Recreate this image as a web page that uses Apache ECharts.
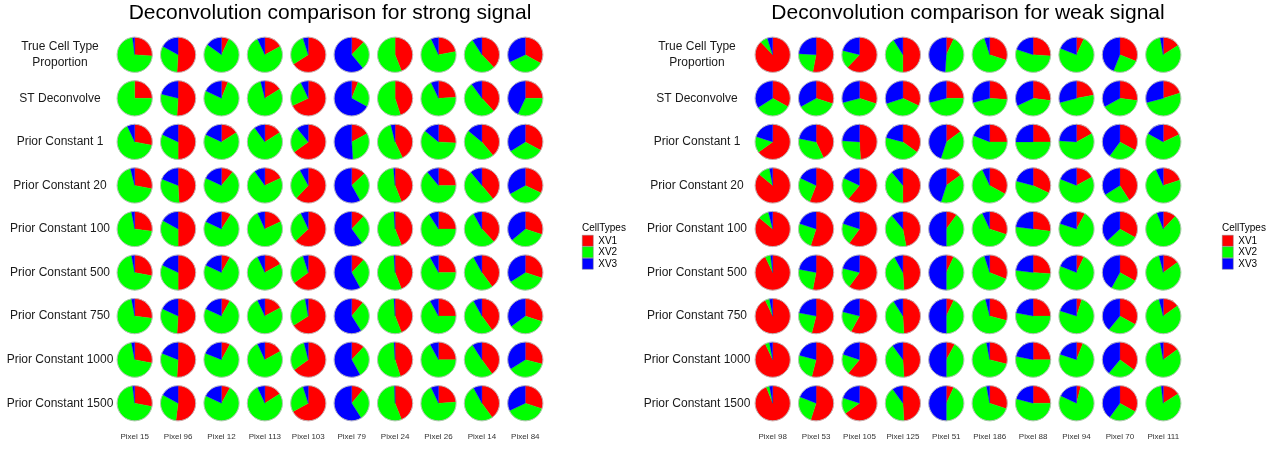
<!DOCTYPE html>
<html>
<head>
    <meta charset="utf-8">
    <title>Deconvolution comparison</title>
    <script src="https://cdn.jsdelivr.net/npm/echarts@6/dist/echarts.min.js"></script>
</head>
<style>
    body { margin: 0; background: #fff; overflow: hidden; }
</style>
<body>
<div id="main" style="width: 1279px; height: 450px;"></div>
<script>
const methods = ['True Cell Type\nProportion', 'ST Deconvolve', 'Prior Constant 1', 'Prior Constant 20',
    'Prior Constant 100', 'Prior Constant 500', 'Prior Constant 750', 'Prior Constant 1000', 'Prior Constant 1500'];
const cellTypes = ['XV1', 'XV2', 'XV3'];
const cellColors = ['#FF0000', '#00FF00', '#0000FF'];

// strong signal panel
const strongPixels = ['Pixel 15', 'Pixel 96', 'Pixel 12', 'Pixel 113', 'Pixel 103', 'Pixel 79', 'Pixel 24', 'Pixel 26', 'Pixel 14', 'Pixel 84'];
const strongXV1 = [
    [.26, .51, .07, .17, .66, .12, .44, .22, .38, .33],
    [.25, .51, .06, .16, .68, .06, .45, .24, .38, .25],
    [.28, .50, .16, .16, .65, .17, .43, .26, .39, .33],
    [.28, .49, .11, .18, .62, .13, .44, .25, .39, .32],
    [.27, .50, .09, .18, .63, .12, .44, .25, .38, .30],
    [.28, .50, .08, .17, .65, .12, .44, .25, .40, .30],
    [.27, .51, .08, .17, .66, .11, .44, .25, .40, .30],
    [.28, .51, .08, .17, .65, .12, .45, .25, .40, .29],
    [.28, .52, .08, .16, .67, .11, .44, .24, .40, .30]
];
const strongXV2 = [
    [.72, .32, .78, .76, .29, .27, .56, .71, .53, .35],
    [.75, .28, .76, .80, .25, .27, .55, .69, .52, .32],
    [.65, .32, .66, .74, .24, .32, .53, .60, .47, .33],
    [.68, .32, .71, .72, .30, .29, .545, .64, .50, .35],
    [.70, .33, .73, .75, .30, .28, .55, .66, .54, .34],
    [.69, .32, .74, .76, .30, .30, .55, .67, .52, .36],
    [.70, .31, .74, .76, .31, .30, .55, .67, .52, .35],
    [.69, .30, .73, .76, .31, .30, .54, .67, .51, .37],
    [.70, .31, .74, .77, .28, .30, .555, .69, .52, .38]
];
const strongXV3 = [
    [.02, .17, .15, .07, .05, .61, 0, .07, .09, .32],
    [0, .21, .18, .04, .07, .67, 0, .07, .10, .43],
    [.07, .18, .18, .10, .11, .51, .04, .14, .14, .34],
    [.04, .19, .18, .10, .08, .58, .015, .11, .11, .33],
    [.03, .17, .18, .07, .07, .60, .01, .09, .08, .36],
    [.03, .18, .18, .07, .05, .58, .01, .08, .08, .34],
    [.03, .18, .18, .07, .03, .59, .01, .08, .08, .35],
    [.03, .19, .19, .07, .04, .58, .01, .08, .09, .34],
    [.02, .17, .18, .07, .05, .59, .005, .07, .08, .32]
];

// weak signal panel
const weakPixels = ['Pixel 98', 'Pixel 53', 'Pixel 105', 'Pixel 125', 'Pixel 51', 'Pixel 186', 'Pixel 88', 'Pixel 94', 'Pixel 70', 'Pixel 111'];
const weakXV1 = [
    [.88, .53, .62, .50, .07, .30, .26, .07, .31, .16],
    [.33, .30, .30, .32, .25, .26, .27, .22, .27, .20],
    [.65, .43, .49, .35, .15, .25, .25, .17, .33, .18],
    [.86, .56, .61, .50, .15, .33, .32, .17, .41, .20],
    [.86, .55, .60, .47, .10, .30, .27, .08, .33, .12],
    [.93, .53, .60, .49, .07, .31, .26, .07, .33, .15],
    [.93, .54, .58, .49, .07, .29, .25, .05, .33, .15],
    [.93, .54, .61, .49, .08, .29, .25, .06, .35, .15],
    [.94, .55, .65, .49, .07, .30, .25, .04, .33, .16]
];
const weakXV2 = [
    [.07, .23, .17, .41, .44, .65, .54, .74, .25, .81],
    [.33, .37, .41, .38, .46, .45, .41, .49, .40, .51],
    [.15, .35, .27, .44, .40, .56, .50, .59, .27, .65],
    [.11, .26, .21, .39, .40, .60, .47, .64, .25, .73],
    [.10, .25, .20, .42, .40, .63, .50, .72, .30, .82],
    [.05, .25, .19, .43, .43, .64, .51, .74, .25, .81],
    [.04, .24, .21, .42, .43, .67, .53, .75, .28, .81],
    [.04, .25, .19, .41, .42, .68, .53, .74, .26, .82],
    [.03, .26, .15, .41, .43, .67, .54, .78, .27, .82]
];
const weakXV3 = [
    [.05, .24, .21, .09, .49, .05, .20, .19, .44, .03],
    [.34, .33, .29, .30, .29, .29, .32, .29, .33, .29],
    [.20, .22, .24, .21, .45, .19, .25, .24, .40, .17],
    [.03, .18, .18, .11, .45, .07, .21, .19, .34, .07],
    [.04, .20, .20, .11, .50, .07, .23, .20, .37, .06],
    [.02, .22, .21, .08, .50, .05, .23, .19, .42, .04],
    [.03, .22, .21, .09, .50, .04, .22, .20, .39, .04],
    [.03, .21, .20, .10, .50, .03, .22, .20, .39, .03],
    [.03, .19, .20, .10, .50, .03, .21, .18, .40, .02]
];

const font = "'Liberation Sans', Arial, sans-serif";
let myChart = echarts.init(document.getElementById('main'));

function renderSlice(params, api) {
    const c = api.coord([api.value(0), api.value(1)]);
    const band = api.size([1, 1]);
    const r = Math.min(band[0], band[1]) * 0.405;
    const a0 = -Math.PI / 2 + api.value(2) * 2 * Math.PI;
    const a1 = a0 + api.value(3) * 2 * Math.PI;
    const color = api.visual('color');
    return {
        type: 'sector',
        shape: { cx: c[0], cy: c[1], r: r, r0: 0, startAngle: a0, endAngle: a1, clockwise: true },
        style: { fill: color, stroke: color, lineWidth: 0.3 }
    };
}

function renderRim(params, api) {
    const c = api.coord([api.value(0), api.value(1)]);
    const band = api.size([1, 1]);
    const r = Math.min(band[0], band[1]) * 0.405;
    return {
        type: 'circle',
        shape: { cx: c[0], cy: c[1], r: r },
        style: { fill: 'none', stroke: '#bdbdbd', lineWidth: 0.9 }
    };
}

// one custom series per cell type, each slice starts where the previous one ended
function buildSeries(idx, values) {
    let out = [];
    for (let k = 0; k < 3; k++) {
        let data = [];
        for (let r = 0; r < methods.length; r++) {
            for (let c = 0; c < 10; c++) {
                let start = 0;
                for (let j = 0; j < k; j++) start += values[j][r][c];
                if (values[k][r][c] > 0) data.push([c, r, start, values[k][r][c]]);
            }
        }
        out.push({
            name: cellTypes[k], type: 'custom', xAxisIndex: idx, yAxisIndex: idx,
            itemStyle: { color: cellColors[k] },
            renderItem: renderSlice, data: data, silent: true
        });
    }
    let rim = [];
    for (let r = 0; r < methods.length; r++) for (let c = 0; c < 10; c++) rim.push([c, r]);
    out.push({ type: 'custom', xAxisIndex: idx, yAxisIndex: idx, renderItem: renderRim, data: rim, silent: true, z: 3 });
    return out;
}

function xAxis(idx, pixels) {
    return {
        type: 'category', gridIndex: idx, data: pixels,
        axisLine: { show: false }, axisTick: { show: false }, splitLine: { show: false },
        axisLabel: { fontSize: 8, color: '#333', margin: 8, interval: 0, fontFamily: font }
    };
}

function yAxis(idx, margin) {
    return {
        type: 'category', gridIndex: idx, data: methods, inverse: true,
        axisLine: { show: false }, axisTick: { show: false }, splitLine: { show: false },
        axisLabel: { fontSize: 12, color: '#1a1a1a', align: 'center', margin: margin, lineHeight: 16, interval: 0, fontFamily: font }
    };
}

function legend(left) {
    return {
        data: cellTypes, orient: 'vertical', left: left, top: 235, padding: 0,
        icon: 'rect', itemWidth: 11, itemHeight: 11, itemGap: 0,
        itemStyle: { borderColor: '#7f7f7f', borderWidth: 0.5 },
        textStyle: { fontSize: 10, color: '#000', fontFamily: font }
    };
}

const option = {
    animation: false,
    backgroundColor: '#fff',
    textStyle: { fontFamily: font },
    title: [
        { text: 'Deconvolution comparison for strong signal', left: 330, top: 3, textAlign: 'center', padding: 0,
          textStyle: { fontSize: 21, fontWeight: 'normal', color: '#000', fontFamily: font } },
        { text: 'Deconvolution comparison for weak signal', left: 968, top: 3, textAlign: 'center', padding: 0,
          textStyle: { fontSize: 21, fontWeight: 'normal', color: '#000', fontFamily: font } },
        { text: 'CellTypes', left: 582, top: 223, padding: 0,
          textStyle: { fontSize: 10, fontWeight: 'normal', color: '#000', fontFamily: font } },
        { text: 'CellTypes', left: 1222, top: 223, padding: 0,
          textStyle: { fontSize: 10, fontWeight: 'normal', color: '#000', fontFamily: font } }
    ],
    legend: [legend(582), legend(1222)],
    grid: [
        { left: 113, top: 33, width: 434, height: 392 },
        { left: 751, top: 33, width: 434, height: 392 }
    ],
    xAxis: [xAxis(0, strongPixels), xAxis(1, weakPixels)],
    yAxis: [yAxis(0, 53), yAxis(1, 54)],
    series: buildSeries(0, [strongXV1, strongXV2, strongXV3])
        .concat(buildSeries(1, [weakXV1, weakXV2, weakXV3]))
};

myChart.setOption(option);
</script>
</body>
</html>
